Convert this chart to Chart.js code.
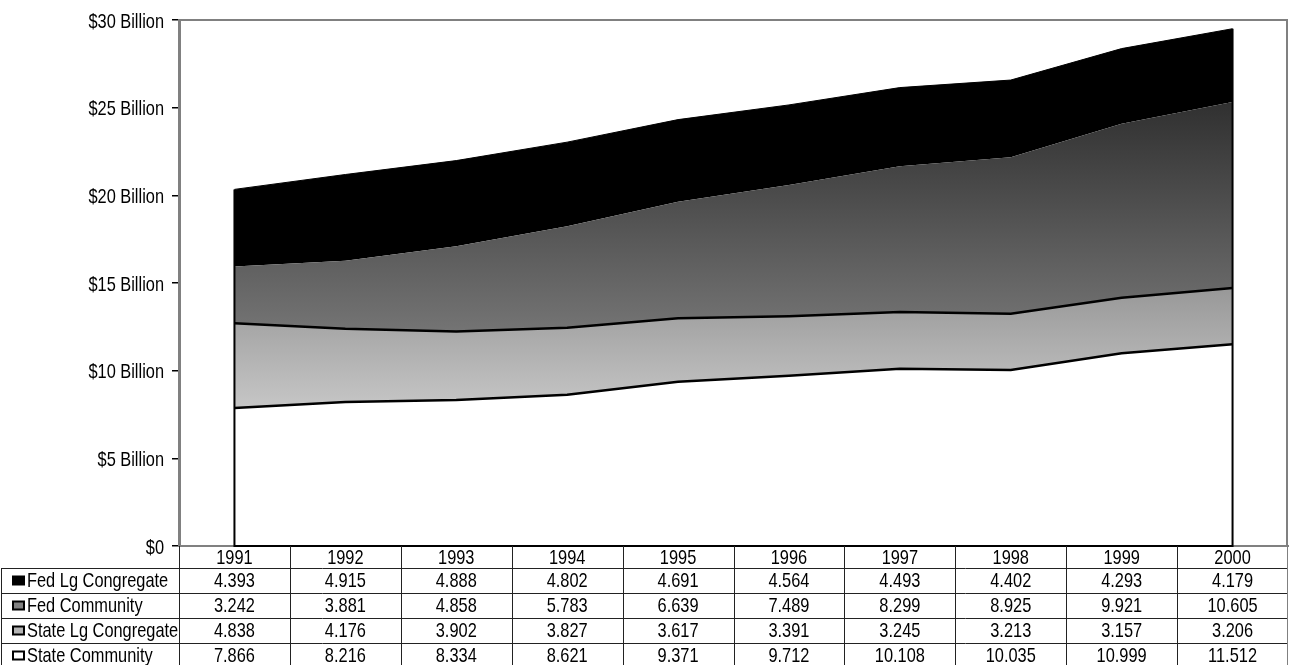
<!DOCTYPE html>
<html>
<head>
<meta charset="utf-8">
<title>Community and Congregate Spending</title>
<script src="https://cdn.jsdelivr.net/npm/chart.js@4.4.1/dist/chart.umd.min.js"></script>
<style>
    html, body { margin: 0; padding: 0; background: #fff; }
    #wrap { width: 1290px; height: 665px; }
</style>
</head>
<body>
<div id="wrap"><canvas id="chart" width="1290" height="665"></canvas></div>
<script>
// Chart data (billions of dollars)
const years = ['1991', '1992', '1993', '1994', '1995', '1996', '1997', '1998', '1999', '2000'];
const fedLgCongregate = [4.393, 4.915, 4.888, 4.802, 4.691, 4.564, 4.493, 4.402, 4.293, 4.179];
const fedCommunity = [3.242, 3.881, 4.858, 5.783, 6.639, 7.489, 8.299, 8.925, 9.921, 10.605];
const stateLgCongregate = [4.838, 4.176, 3.902, 3.827, 3.617, 3.391, 3.245, 3.213, 3.157, 3.206];
const stateCommunity = [7.866, 8.216, 8.334, 8.621, 9.371, 9.712, 10.108, 10.035, 10.999, 11.512];
const yMin = 0;
const yMax = 30;
const yStep = 5;

// Original uses a narrow Arial; emulate it by squeezing Liberation Sans
const FONT = "'Liberation Sans', Arial, sans-serif";
const FONT_SIZE = 21;
const SQUEEZE = 0.78;

/**
 * Vertical gradient across the pixel extent of one stacked band
 */
const bandGradient = (lower, upper, topColor, bottomColor) => (context) => {
    const chart = context.chart;
    const y = chart.scales.y;
    if (!chart.chartArea || !y) {
        return bottomColor;
    }
    const tops = upper.map((v, i) => v + lower[i]);
    const yTop = y.getPixelForValue(Math.max(...tops));
    const yBottom = y.getPixelForValue(Math.min(...lower));
    const g = chart.ctx.createLinearGradient(0, yTop, 0, yBottom);
    g.addColorStop(0, topColor);
    g.addColorStop(1, bottomColor);
    return g;
};

const stateTotal = stateCommunity.map((v, i) => v + stateLgCongregate[i]);

// Table rows, top to bottom as in the original
const tableRows = [
    { label: 'Fed Lg Congregate', values: fedLgCongregate, key: '#000000' },
    { label: 'Fed Community', values: fedCommunity, key: '#808080' },
    { label: 'State Lg Congregate', values: stateLgCongregate, key: '#b4b4b4' },
    { label: 'State Community', values: stateCommunity, key: '#ffffff' }
];

/**
 * Draw condensed text
 */
const drawText = (ctx, text, x, y, align) => {
    ctx.save();
    ctx.translate(x, y);
    ctx.scale(SQUEEZE, 1);
    ctx.textAlign = align;
    ctx.textBaseline = 'middle';
    ctx.fillText(text, 0, 0);
    ctx.restore();
};

/**
 * Outline of the bottom area (edges and base) plus the plot frame
 */
const outlinePlugin = {
    id: 'outline',
    afterDatasetsDraw(chart) {
        const { ctx, chartArea } = chart;
        const y = chart.scales.y;
        const top = chart.getDatasetMeta(3).data;
        const first = top[0];
        const last = top[top.length - 1];
        const y0 = y.getPixelForValue(0);

        ctx.save();
        // gray frame (top, right)
        ctx.strokeStyle = '#808080';
        ctx.lineWidth = 2;
        ctx.beginPath();
        ctx.moveTo(chartArea.left, chartArea.top);
        ctx.lineTo(chartArea.right - 1, chartArea.top);
        ctx.lineTo(chartArea.right - 1, chartArea.bottom);
        ctx.stroke();

        // black area edges
        ctx.strokeStyle = '#000000';
        ctx.lineWidth = 2;
        ctx.beginPath();
        ctx.moveTo(first.x, first.y);
        ctx.lineTo(first.x, y0);
        ctx.lineTo(last.x, y0);
        ctx.lineTo(last.x, last.y);
        ctx.stroke();
        ctx.restore();
    }
};

/**
 * Axis labels and the data table under the plot
 */
const tablePlugin = {
    id: 'dataTable',
    afterDraw(chart) {
        const { ctx, chartArea } = chart;
        const x = chart.scales.x;
        const y = chart.scales.y;
        const colW = (x.right - x.left) / years.length;
        const headerTop = chartArea.bottom;
        const headerBottom = headerTop + 22;
        const rowH = 25;
        const right = x.right - 1;

        ctx.save();
        ctx.font = `${FONT_SIZE}px ${FONT}`;
        ctx.fillStyle = '#000000';

        // y tick labels
        y.ticks.forEach((t) => {
            drawText(ctx, t.label, 164, y.getPixelForValue(t.value) + 2, 'right');
        });

        // year header
        x.ticks.forEach((t, i) => {
            drawText(ctx, years[i], x.getPixelForValue(i), headerTop + 12, 'center');
        });

        ctx.lineWidth = 1;
        ctx.strokeStyle = '#222222';
        ctx.beginPath();
        // column separators
        for (let i = 0; i < years.length; i++) {
            const cx = Math.round(x.left + colW * i) + 0.5;
            ctx.moveTo(cx, headerTop);
            ctx.lineTo(cx, chart.height);
        }
        // left border of label column
        ctx.moveTo(1.5, headerBottom);
        ctx.lineTo(1.5, chart.height);
        // row lines
        for (let r = 0; r < tableRows.length; r++) {
            const ry = Math.round(headerBottom + rowH * r) + 0.5;
            ctx.moveTo(1, ry);
            ctx.lineTo(right, ry);
        }
        ctx.stroke();

        ctx.strokeStyle = '#808080';
        ctx.beginPath();
        ctx.moveTo(right + 0.5, headerTop);
        ctx.lineTo(right + 0.5, chart.height);
        ctx.stroke();

        tableRows.forEach((row, r) => {
            const cy = headerBottom + rowH * r + rowH / 2;

            // legend key
            ctx.fillStyle = row.key;
            ctx.fillRect(13, cy - 4, 11, 8);
            ctx.strokeStyle = '#000000';
            ctx.lineWidth = 2;
            ctx.strokeRect(13, cy - 4, 11, 8);

            ctx.fillStyle = '#000000';
            drawText(ctx, row.label, 27, cy + 1, 'left');
            row.values.forEach((v, i) => {
                drawText(ctx, v.toFixed(3), x.getPixelForValue(i), cy + 1, 'center');
            });
        });
        ctx.restore();
    }
};

const ctx = document.getElementById('chart').getContext('2d');

const chart = new Chart(ctx, {
    type: 'line',
    data: {
        labels: years,
        datasets: [
            {
                label: 'State Community',
                data: stateCommunity,
                backgroundColor: '#ffffff',
                borderColor: '#000000',
                borderWidth: 2.5,
                fill: 'origin'
            },
            {
                label: 'State Lg Congregate',
                data: stateLgCongregate,
                backgroundColor: bandGradient(stateCommunity, stateLgCongregate, '#989898', '#c6c6c6'),
                borderColor: '#000000',
                borderWidth: 2.5,
                fill: '-1'
            },
            {
                label: 'Fed Community',
                data: fedCommunity,
                backgroundColor: bandGradient(stateTotal, fedCommunity, '#303030', '#747474'),
                borderColor: 'rgba(0,0,0,0)',
                borderWidth: 0,
                fill: '-1'
            },
            {
                label: 'Fed Lg Congregate',
                data: fedLgCongregate,
                backgroundColor: '#000000',
                borderColor: '#000000',
                borderWidth: 1,
                fill: '-1'
            }
        ]
    },
    options: {
        responsive: false,
        animation: false,
        layout: {
            padding: { top: 20, right: 2, left: 0, bottom: 0 }
        },
        elements: {
            point: { radius: 0, hoverRadius: 0 },
            line: { tension: 0 }
        },
        scales: {
            x: {
                offset: true,
                grid: { display: false, drawTicks: false },
                border: { display: true, color: '#808080', width: 2 },
                ticks: { display: false },
                afterFit: (scale) => { scale.height = 119; }
            },
            y: {
                stacked: true,
                min: yMin,
                max: yMax,
                grid: {
                    drawOnChartArea: false,
                    drawTicks: true,
                    tickLength: 7,
                    color: '#000000',
                    lineWidth: 1.5
                },
                border: { display: true, color: '#808080', width: 3 },
                ticks: {
                    display: false,
                    stepSize: yStep,
                    callback: (v) => (v === 0 ? '$0' : `$${v} Billion`)
                },
                afterFit: (scale) => { scale.width = 179; }
            }
        },
        plugins: {
            legend: { display: false },
            tooltip: { enabled: false }
        }
    },
    plugins: [outlinePlugin, tablePlugin]
});
</script>
</body>
</html>
